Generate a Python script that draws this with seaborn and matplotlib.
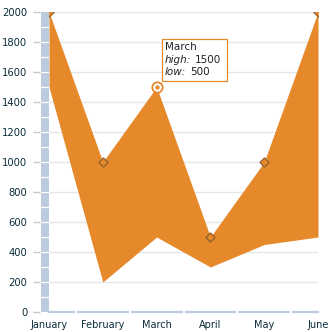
import numpy as np
import pandas as pd
import matplotlib
matplotlib.use("Agg")
import matplotlib.pyplot as plt
import seaborn as sns
from matplotlib.patches import Rectangle
from matplotlib.transforms import IdentityTransform

months = ["January", "February", "March", "April", "May", "June"]
high = [2000, 1000, 1500, 500, 1000, 2000]
low = [1500, 200, 500, 300, 450, 500]
y_ticks = list(range(0, 2001, 200))
hover_idx = 2

ORANGE = "#E5892A"
BAR = "#BCCBDD"
TXT = "#0B2C3C"

sns.set_theme(style="white")
plt.rcParams["font.family"] = ["DejaVu Sans"]

fig = plt.figure(figsize=(3.36, 3.32), dpi=100)
ax = fig.add_axes([49 / 336, 20 / 332, 269 / 336, 300 / 332])

x = np.arange(len(months))
df = pd.DataFrame({"pos": x, "month": months, "high": high, "low": low})

ax.fill_between(df["pos"], df["low"], df["high"], color=ORANGE, lw=0, zorder=2)

others = df[df["pos"] != hover_idx]
sns.scatterplot(data=others, x="pos", y="high", marker="D", s=22, color=ORANGE,
                edgecolor="#8A5A30", linewidth=0.8, zorder=4, ax=ax, legend=False)
hov = df[df["pos"] == hover_idx]
sns.scatterplot(data=hov, x="pos", y="high", marker="o", s=55, color="white",
                edgecolor=ORANGE, linewidth=1.3, zorder=5, ax=ax, legend=False)
sns.scatterplot(data=hov, x="pos", y="high", marker="o", s=10, color=ORANGE,
                edgecolor=ORANGE, linewidth=0, zorder=6, ax=ax, legend=False)

ax.set_xlim(0, len(months) - 1)
ax.set_ylim(0, 2000)
ax.set_xticks(x, months)
ax.set_yticks(y_ticks)
ax.set_xlabel("")
ax.set_ylabel("")
ax.yaxis.grid(True, color="#E6E6E6", lw=1)
ax.set_axisbelow(True)

for s in ["top", "right"]:
    ax.spines[s].set_visible(False)
ax.spines["left"].set_position(("outward", 6.5))
ax.spines["left"].set_visible(False)
ax.spines["bottom"].set_color(BAR)
ax.spines["bottom"].set_linewidth(1.5)

ax.tick_params(axis="y", left=True, length=5, width=1, color="#C8C8C8",
               labelcolor=TXT, labelsize=7.2, pad=4)
ax.tick_params(axis="x", which="major", bottom=True, length=0, labelcolor=TXT,
               labelsize=7.0, pad=5.5)

# white gaps in the x axis line between categories
for b in x[:-1] + 0.5:
    ax.plot([b, b], [-0.004, 0.004], transform=ax.get_xaxis_transform(),
            color="white", lw=1.5, clip_on=False, zorder=3)

# left decorative bar
ytr = ax.get_yaxis_transform()
bw = 8 / 269
ax.add_patch(Rectangle((-bw, 0), bw, 2000, transform=ytr, facecolor=BAR,
                       edgecolor="none", clip_on=False, zorder=1))
for v in range(100, 2000, 100):
    ax.plot([-bw, 0], [v, v], transform=ytr, color="white", lw=0.9,
            clip_on=False, zorder=1.5)

# tooltip
fig.canvas.draw()
px, py = ax.transData.transform((hover_idx, high[hover_idx]))
box = Rectangle((px + 5, py + 6), 65, 42, transform=IdentityTransform(),
                facecolor="white", edgecolor=ORANGE, lw=0.9, zorder=10)
fig.add_artist(box)
fs = 7.5
fig.text(px + 8, py + 40, months[hover_idx], transform=IdentityTransform(),
         fontsize=fs, va="center", ha="left", color="#222222", zorder=11)
renderer = fig.canvas.get_renderer()
for lab, val, dy in [("high:", high[hover_idx], 27), ("low:", low[hover_idx], 15)]:
    t = fig.text(px + 8, py + dy, lab, transform=IdentityTransform(), fontsize=fs,
                 style="italic", va="center", ha="left", color="#222222", zorder=11)
    ext = t.get_window_extent(renderer)
    fig.text(ext.x1 + 4, py + dy, str(val), transform=IdentityTransform(),
             fontsize=fs, va="center", ha="left", color="#222222", zorder=11)

fig.savefig("out.png", dpi=100)
